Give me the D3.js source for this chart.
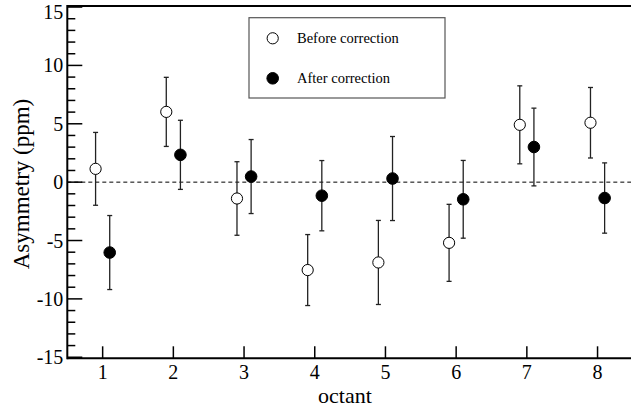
<!DOCTYPE html>
<html><head><meta charset="utf-8">
<script src="https://cdn.jsdelivr.net/npm/d3@7"></script>
<style>body{margin:0;background:#fff}svg{display:block}</style>
</head><body><svg id="c" width="631" height="409" font-family="'Liberation Serif', 'Times New Roman', Times, 'DejaVu Serif', serif"></svg>
<script>
const octants = [1,2,3,4,5,6,7,8];
const beforeVals = [1.14, 6.02, -1.40, -7.53, -6.88, -5.20, 4.91, 5.09];
const beforeErr  = [3.12, 2.96, 3.15, 3.04, 3.60, 3.30, 3.34, 3.02];
const afterVals  = [-6.03, 2.34, 0.48, -1.16, 0.31, -1.47, 3.01, -1.36];
const afterErr   = [3.17, 2.96, 3.17, 3.01, 3.60, 3.33, 3.33, 3.01];
const yTicks = [-15,-10,-5,0,5,10,15];
const xLabel = "octant", yLabel = "Asymmetry (ppm)";
const legendLabels = ["Before correction","After correction"];

const svg = d3.select("#c");
const L=67.3, R=631, T=6, B=358.3;
const x = d3.scaleLinear().domain([0.5, 0.5 + (R-L)/70.7]).range([L,R]);
const y = d3.scaleLinear().domain([-15.09, 15.09]).range([B,T]);

svg.append("line").attr("x1",L).attr("x2",R).attr("y1",T).attr("y2",T).attr("stroke","#000").attr("stroke-width",2);
svg.append("line").attr("x1",L).attr("x2",R).attr("y1",B).attr("y2",B).attr("stroke","#000").attr("stroke-width",2);
svg.append("line").attr("x1",L).attr("x2",L).attr("y1",T-1).attr("y2",B+1).attr("stroke","#000").attr("stroke-width",2);

const minor = d3.range(-15,16,1);
svg.selectAll(".ymin").data(minor).join("line")
  .attr("x1",L).attr("x2",d=>yTicks.includes(d)?L+15:L+8)
  .attr("y1",d=>y(d)).attr("y2",d=>y(d)).attr("stroke","#000").attr("stroke-width",1.5);
svg.selectAll(".ylab").data(yTicks).join("text")
  .attr("x",L-4).attr("y",d=>Math.max(y(d)+7, 18.5)).attr("text-anchor","end")
  .attr("font-size",20).text(d=>d);

svg.selectAll(".xt").data(octants).join("line")
  .attr("x1",d=>x(d)).attr("x2",d=>x(d)).attr("y1",B).attr("y2",B-12)
  .attr("stroke","#000").attr("stroke-width",1.5);
svg.selectAll(".xl").data(octants).join("text")
  .attr("x",d=>x(d)).attr("y",379).attr("text-anchor","middle").attr("font-size",20).text(d=>d);

svg.append("text").attr("x",345).attr("y",403).attr("text-anchor","middle").attr("font-size",22).text(xLabel);
svg.append("text").attr("transform","translate(29,184) rotate(-90)").attr("text-anchor","middle").attr("font-size",23).text(yLabel);

svg.append("line").attr("x1",L).attr("x2",R).attr("y1",y(0)).attr("y2",y(0))
  .attr("stroke","#000").attr("stroke-width",1).attr("stroke-dasharray","4,3");

function series(vals, errs, off, filled){
  const g = svg.append("g");
  const d = octants.map((o,i)=>({xv:o+off, v:vals[i], e:errs[i]}));
  g.selectAll(".eb").data(d).join("line").attr("x1",p=>x(p.xv)).attr("x2",p=>x(p.xv))
    .attr("y1",p=>y(p.v+p.e)).attr("y2",p=>y(p.v-p.e)).attr("stroke","#222").attr("stroke-width",1.3);
  g.selectAll(".c1").data(d).join("line").attr("x1",p=>x(p.xv)-2.5).attr("x2",p=>x(p.xv)+2.5)
    .attr("y1",p=>y(p.v+p.e)).attr("y2",p=>y(p.v+p.e)).attr("stroke","#222").attr("stroke-width",1.3);
  g.selectAll(".c2").data(d).join("line").attr("x1",p=>x(p.xv)-2.5).attr("x2",p=>x(p.xv)+2.5)
    .attr("y1",p=>y(p.v-p.e)).attr("y2",p=>y(p.v-p.e)).attr("stroke","#222").attr("stroke-width",1.3);
  g.selectAll("circle").data(d).join("circle").attr("cx",p=>x(p.xv)).attr("cy",p=>y(p.v))
    .attr("r",filled?5.8:5.6).attr("fill",filled?"#000":"#fff").attr("stroke","#000").attr("stroke-width",1);
}
series(beforeVals, beforeErr, -0.1, false);
series(afterVals, afterErr, 0.1, true);

svg.append("rect").attr("x",249).attr("y",17.7).attr("width",196).attr("height",80.3)
  .attr("fill","#fff").attr("stroke","#555").attr("stroke-width",1.2);
svg.append("circle").attr("cx",272.7).attr("cy",38.3).attr("r",5.6).attr("fill","#fff").attr("stroke","#000");
svg.append("circle").attr("cx",272.7).attr("cy",78.3).attr("r",5.8).attr("fill","#000").attr("stroke","#000");
svg.append("text").attr("x",297).attr("y",43).attr("font-size",14.5).text(legendLabels[0]);
svg.append("text").attr("x",297).attr("y",83).attr("font-size",14.5).text(legendLabels[1]);
</script></body></html>
